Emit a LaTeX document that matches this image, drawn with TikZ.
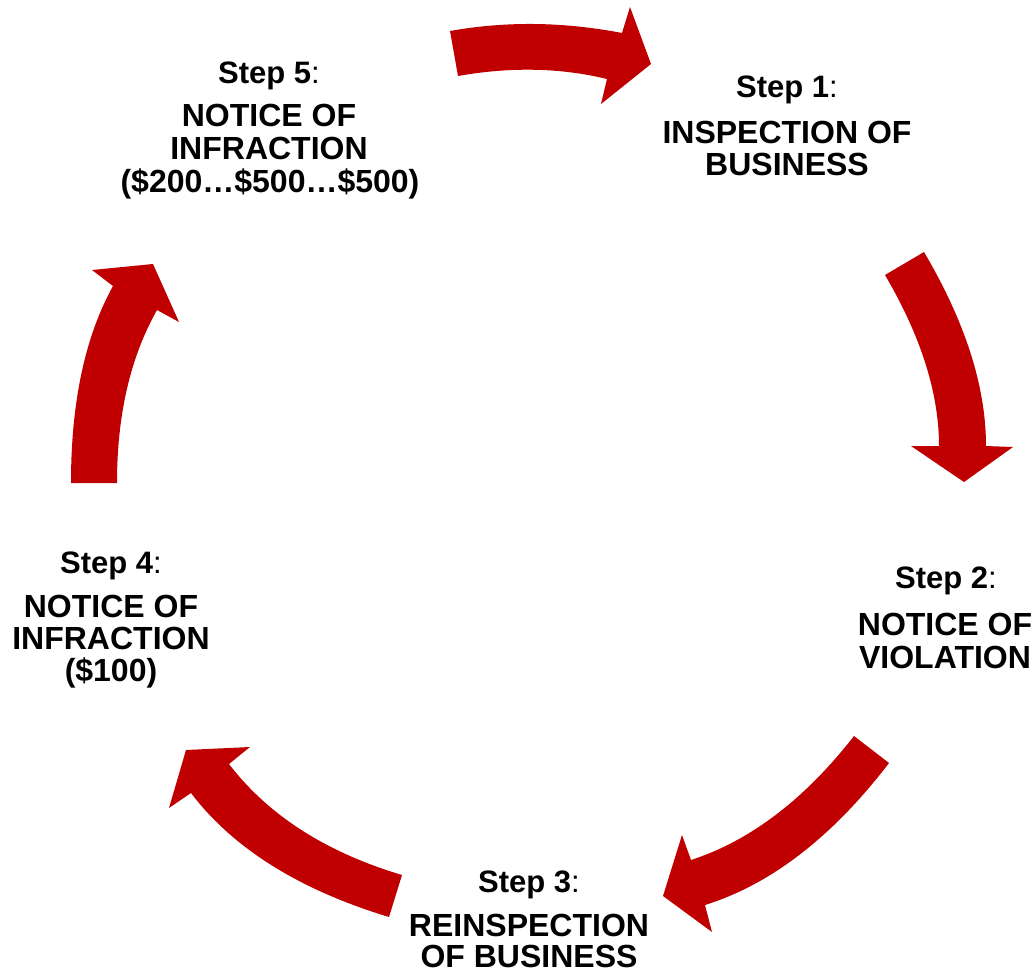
\documentclass[tikz,border=0pt]{standalone}
\usepackage{fontspec}
\setmainfont{Liberation Sans}
\definecolor{arrowred}{HTML}{C00000}
\begin{document}
\begin{tikzpicture}[x=1pt,y=-1pt,
  bigtxt/.style={anchor=base, inner sep=0pt, font=\fontsize{32}{34}\selectfont\bfseries},
  steptxt/.style={anchor=base, inner sep=0pt, font=\fontsize{31}{33}\selectfont},
  cyclearrow/.style={fill=arrowred, draw=none}]
\useasboundingbox (0,0) rectangle (1036,974);

% arrow 5 -> 1 (top)
\fill[cyclearrow] (450,31) .. controls (506,21) and (563.3,21.7) .. (622,33)
  -- (630,7) -- (651,64) -- (601,104) -- (607,79)
  .. controls (560.3,67.7) and (510.7,66.7) .. (458,76) -- cycle;
% arrow 1 -> 2 (right)
\fill[cyclearrow] (885,275) -- (924,252)
  .. controls (965.3,322) and (986,386.7) .. (986,446)
  -- (1013,447) -- (964,482) -- (911,446) -- (939,446)
  .. controls (939,393.3) and (921,336.3) .. (885,275) -- cycle;
% arrow 2 -> 3 (bottom right)
\fill[cyclearrow] (854,736) -- (889,763)
  .. controls (832.3,837) and (771,884.3) .. (705,905)
  -- (712,932) -- (663,896) -- (682,835) -- (691,860)
  .. controls (750.3,840.7) and (804.7,799.3) .. (854,736) -- cycle;
% arrow 3 -> 4 (bottom left)
\fill[cyclearrow] (402,875) -- (389,917)
  .. controls (299,889.7) and (233,848.3) .. (191,793)
  -- (169,808) -- (186,750) -- (250,747) -- (229,764)
  .. controls (268.3,815.3) and (326,852.3) .. (402,875) -- cycle;
% arrow 4 -> 5 (left)
\fill[cyclearrow] (71,483) -- (117,483)
  .. controls (117,415) and (130.3,357.3) .. (157,310)
  -- (179,322) -- (153,264) -- (92,270) -- (113,286)
  .. controls (85,336.7) and (71,402.3) .. (71,483) -- cycle;

% Step 1
\node[steptxt] (s1) at (787,97) {\textbf{Step 1}:};
\node[bigtxt] (s1a) at (787,143) {INSPECTION OF};
\node[bigtxt] (s1b) at (787,175) {BUSINESS};
% Step 2
\node[steptxt] (s2) at (946,588) {\textbf{Step 2}:};
\node[bigtxt] (s2a) at (945,635) {NOTICE OF};
\node[bigtxt] (s2b) at (945,668) {VIOLATION};
% Step 3
\node[steptxt] (s3) at (529,892) {\textbf{Step 3}:};
\node[bigtxt] (s3a) at (529,936) {REINSPECTION};
\node[bigtxt] (s3b) at (529,967) {OF BUSINESS};
% Step 4
\node[steptxt] (s4) at (111,573) {\textbf{Step 4}:};
\node[bigtxt] (s4a) at (111,617) {NOTICE OF};
\node[bigtxt] (s4b) at (111,649) {INFRACTION};
\node[bigtxt] (s4c) at (111,681) {(\$100)};
% Step 5
\node[steptxt] (s5) at (269,83) {\textbf{Step 5}:};
\node[bigtxt] (s5a) at (269,126) {NOTICE OF};
\node[bigtxt] (s5b) at (269,159) {INFRACTION};
\node[bigtxt] (s5c) at (270,192) {(\$200…\$500…\$500)};
\end{tikzpicture}
\end{document}
